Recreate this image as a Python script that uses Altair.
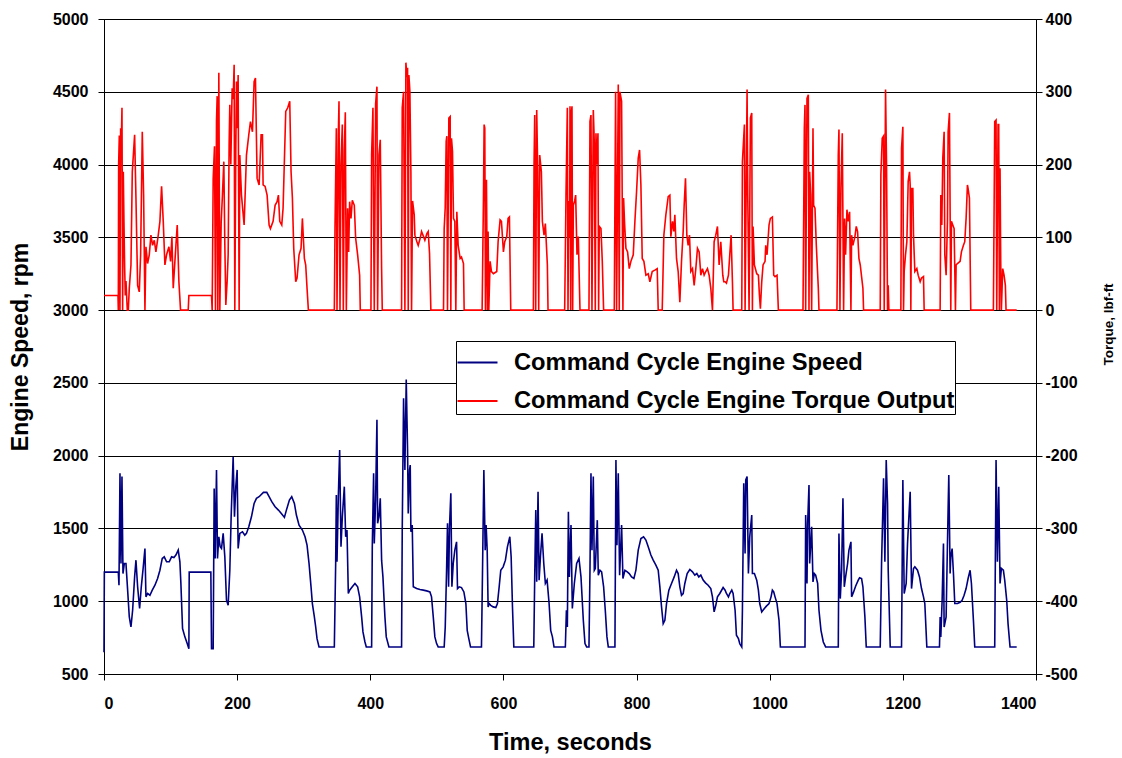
import altair as alt
import pandas as pd

# Command cycle engine speed (time s, rpm)
speed_points = [
    (0,650),(0.5,1200),(21.5,1200),(22.5,1110),(24,1879),(25.5,1259),(27,1856),(28.5,1190),(30.5,1259),(33,1259),
    (35.5,1076),(38,892),(40.5,823),(43,938),(46,1167),(48,1282),(50.5,1099),(53.5,950),(56,1099),(59,1236),
    (61.5,1362),(63,1030),(65.5,1053),(69,1041),(72.5,1076),(76.5,1110),(80.5,1156),(84,1213),(87.5,1294),(90.5,1305),
    (94,1271),(98,1271),(101.5,1305),(105,1300),(108,1317),(111.5,1351),(114,1271),(115.5,1122),(118,812),(121.5,755),
    (125,709),(127.5,674),(128,1200),(160.5,1200),(161.5,674),(164,674),(165.5,1775),(167,1294),(169,1902),(170.5,1294),
    (172.5,1443),(174.5,1374),(176.5,1362),(179,1466),(181.5,1305),(184,1007),(186.5,972),(189,1213),(191,1580),(194,1993),
    (196,1580),(198,1787),(200,1902),(201.5,1362),(204,1466),(208,1477),(211.5,1454),(214,1466),(217.5,1512),(221.5,1580),
    (225.5,1672),(229,1707),(233,1718),(239.5,1748),(244.5,1748),(248,1718),(252,1684),(257,1649),(262,1626),(267,1599),
    (271,1576),(274,1626),(278.5,1695),(282,1718),(286,1672),(289,1592),(293,1523),(298,1489),(302,1443),(305,1385),
    (308,1259),(311,1099),(313,984),(316,892),(318,823),(320,743),(323,686),(346,686),(348,1259),(349,1729),
    (350,1271),(352,1718),(354,2039),(356,1374),(358,1580),(361,1787),(363,1443),(365,1489),(367,1053),(369,1076),
    (373,1099),(377,1122),(381,1099),(384,1030),(387,892),(389,789),(392,720),(394,686),(402,686),(403,1374),
    (405,1879),(406,1397),(408,1695),(410,2246),(411,1535),(413,1580),(415,1707),(417,1282),(419,1167),(422,892),
    (424,755),(428,686),(447,686),(448,1489),(450,2395),(452,1902),(454,2523),(456,2039),(457,1603),(459,1902),
    (460,1936),(461,1477),(463,1523),(464.6,1099),(469.6,1087),(474.6,1080),(479.6,1076),(484.6,1071),(489.6,1064),(492,1030),
    (494.6,892),(497,755),(499.6,709),(502,686),(511,686),(512.6,823),(514.6,1213),(516,1535),(517.6,1099),(519,1512),
    (521,1741),(522.6,1099),(524.6,1259),(527,1351),(529.6,1408),(531,1087),(533.6,1099),(537,1094),(540.6,1064),(543.6,984),
    (545.6,800),(548,743),(550.6,686),(567,686),(568.6,1213),(570.6,1902),(572.6,1351),(574,1523),(575.6,1351),(577,961),
    (578.6,984),(581,972),(584.6,961),(588.6,957),(591,984),(593.6,1099),(596,1213),(599.6,1236),(603,1282),(606,1374),
    (609.6,1443),(611.6,1305),(613.6,961),(615.6,686),(645.6,686),(647,1167),(648.6,1626),(650,1133),(652,1752),(653.6,1145),
    (655.6,1305),(658,1466),(660.6,1259),(663,1122),(665.6,1145),(668.6,984),(671,800),(673.6,755),(676,686),(693,686),
    (694.6,938),(696,823),(697.6,1615),(699,1167),(701.5,1523),(703.5,950),(706.5,1122),(710,1259),(713.5,1294),(716.5,1167),
    (720,869),(722.5,709),(725,686),(728.5,686),(730,1213),(731.5,1879),(733,1351),(735,1856),(736.5,1213),(738,1225),
    (741,1557),(742.5,1179),(745,1213),(747.5,1202),(750.5,1099),(753,938),(755.5,755),(757.5,686),(767.5,686),(769,1970),
    (770.5,1385),(772.5,1879),(774.5,1179),(777.5,1523),(779.5,1156),(782.5,1213),(786,1202),(789,1190),(792.5,1167),(796,1156),
    (799,1213),(802.5,1351),(806.5,1431),(810.5,1443),(814,1420),(817.5,1374),(821.5,1317),(825,1282),(829,1248),(832.5,1213),
    (835,1099),(837.5,961),(840,846),(842.5,869),(845,984),(848.5,1076),(852.5,1122),(856.5,1167),(860,1213),(862.5,1190),
    (865,1099),(867.5,1041),(870,1053),(872.5,1122),(876,1190),(880,1218),(884,1202),(887.5,1179),(890.5,1190),(893.5,1167),
    (896.5,1179),(900,1145),(903.5,1126),(907.5,1110),(911.5,1087),(914,1030),(916.5,927),(919,972),(921.5,1030),(925,1053),
    (930,1094),(933,1076),(935,1053),(938,1030),(940,1053),(943,1076),(945,1053),(948,938),(950,766),(953,743),
    (955,709),(958,686),(959,938),(961,1810),(963,1328),(964,1833),(966,1856),(968,1190),(970,1443),(973,1592),
    (974,1190),(977,1190),(980.5,1145),(983,1076),(985,984),(988,927),(992,950),(995,966),(999,984),(1002,1030),
    (1004,1076),(1006,1064),(1008,1030),(1011,984),(1014,869),(1016,686),(1053,686),(1054,1592),(1056,1122),(1057,1535),
    (1059,1798),(1060,1259),(1063,1512),(1065,1133),(1067,1190),(1069,1179),(1072,1122),(1074,938),(1077,800),(1080.5,720),
    (1084,686),(1103,686),(1104,1466),(1106,1018),(1108,1213),(1110,1707),(1112,1099),(1114,1167),(1117,1259),(1119,1351),
    (1122,1408),(1123,1030),(1126,1064),(1129,1103),(1133,1145),(1135,1161),(1138,1156),(1140,1099),(1143,892),(1145,686),
    (1166,686),(1168,1259),(1171,1844),(1173,1271),(1175,1970),(1177,1672),(1178,1213),(1181,686),(1198,686),(1200,1833),
    (1202,1053),(1205,1122),(1207,1397),(1211,1752),(1213,1087),(1216,1225),(1218,1236),(1222,1213),(1225,1167),(1228,1087),
    (1231,1030),(1233,984),(1236,686),(1255,686),(1256,892),(1257,755),(1259,1007),(1261,1397),(1262,823),(1265,892),
    (1267,1397),(1269,1867),(1271,1190),(1272,1305),(1274,1362),(1276,1190),(1278,984),(1282,984),(1286,993),(1289,1007),
    (1292,1041),(1295,1087),(1298,1156),(1301,1213),(1303,1122),(1306,869),(1308,686),(1338,686),(1340,1970),(1342,1271),
    (1344,1787),(1346,1122),(1348,1225),(1351,1213),(1353,1145),(1356,1007),(1358,846),(1361,686),(1371,686),
]

# Command cycle engine torque output (time s, lbf-ft)
torque_points = [
    (0,20),(21,20),(21.5,0),(22,200),(23,240),(24,0),(25,250),(26,230),(27,278),(28,0),
    (29,190),(30,120),(31,60),(32,20),(33,40),(35,0),(36.5,0),(38,30),(40.5,62),(42.5,190),
    (46,241),(48,154),(50.5,34),(53,25),(55,76),(57.5,245),(59.5,158),(61.5,0),(63,87),(65.5,64),
    (68,76),(70.5,103),(73,89),(75.5,96),(78,80),(81.5,103),(84,122),(86.5,170),(89,122),(91.5,62),
    (94,76),(97.5,87),(100,67),(102,101),(104,30),(106.5,67),(110,117),(112.5,39),(115,0),(126.5,0),
    (127.5,20),(161.5,20),(162.5,0),(164,180),(166,225),(167.5,0),(169,260),(170,294),(171,0),(172.5,326),
    (174,0),(176,120),(178,160),(180,204),(181.5,90),(183,7),(185,40),(186.5,76),(188,230),(189,282),
    (190.5,200),(192.5,305),(194,290),(195.5,337),(196.5,0),(198,220),(199,314),(200,250),(201.5,323),(203,0),
    (204,213),(206.5,158),(210.5,117),(214,213),(217.5,241),(220,259),(223,245),(225.5,314),(227.5,319),(230,181),
    (233,172),(236,241),(238,241),(239,172),(242,170),(245,158),(248,117),(250,112),(254,122),(257,144),
    (260,149),(262,158),(264,122),(267,117),(269,140),(273,273),(276,278),(279,287),(281,190),(283,154),
    (285,85),(288,39),(290,44),(293,76),(296,85),(298,126),(301,71),(303,62),(305,30),(307,0),
    (346,0),(347,112),(349,250),(350,0),(352,240),(353,287),(354.5,0),(356,200),(358,255),(359.5,0),
    (361,220),(362.5,272),(364,0),(366,140),(367.5,80),(369,149),(371,126),(373,151),(376,144),(378,99),
    (381,76),(384,48),(385,0),(401,0),(402,213),(404,278),(405,120),(406,0),(408,283),(410,307),
    (411,0),(413,213),(415,234),(417,57),(418,0),(447,0),(448,278),(450,300),(452,0),(453.5,340),
    (455,320),(456,333),(457,0),(458,323),(459.5,300),(461,190),(462,0),(463.5,150),(466,131),(467,103),
    (470,94),(472,89),(475,99),(477,108),(480,101),(482,96),(485,105),(487,108),(489,78),(491,0),
    (510,0),(511,112),(512.5,140),(514,232),(515,239),(516,0),(518,264),(520,266),(521,0),(522,236),
    (523.5,218),(525,126),(527,122),(528.5,0),(530,135),(532,89),(535,71),(537,73),(540,64),(541,0),
    (568,0),(570,154),(571,255),(572,250),(573,0),(574.5,179),(576,0),(577,108),(578,0),(580,67),
    (582,53),(585,50),(590,53),(592,94),(595,124),(597,122),(600,80),(602,94),(605,101),(607,126),
    (609,128),(611,0),(645,0),(646,200),(647,268),(648.5,0),(650,275),(651.5,190),(653,0),(654.5,213),
    (657,190),(658.5,122),(661,103),(663,119),(666,62),(667,0),(692,0),(694,158),(696,278),(697,0),
    (698,150),(699.5,100),(700,280),(701,0),(702,270),(703,280),(704,0),(705,144),(707,150),(708.5,158),
    (710.5,76),(712.5,101),(715,0),(728.5,0),(730,259),(731.5,268),(733,0),(735,275),(736.5,230),(738,0),
    (739,243),(740.5,200),(742,243),(743,0),(744,115),(746.5,112),(748.5,67),(750.5,0),(766.5,0),(768.5,300),
    (770,0),(772.5,310),(774,0),(775,300),(777.5,287),(779.5,0),(780.5,154),(782,119),(784,85),(786.5,80),
    (789,57),(791.5,67),(795,76),(797.5,122),(800,163),(802.5,209),(804.5,220),(806.5,172),(808.5,71),(811,67),
    (814,48),(817.5,50),(820,39),(823.5,53),(827.5,55),(831,57),(832.5,0),(838.5,0),(841,103),(844,131),
    (847.5,156),(850,158),(851.5,101),(854,122),(856,108),(857.5,131),(860,71),(862.5,53),(865,11),(867.5,67),
    (870,108),(871.5,144),(873.5,181),(875.5,103),(877.5,89),(879.5,103),(881.5,53),(884,57),(886.5,34),(889,57),
    (891.5,85),(894,80),(896.5,48),(899,57),(901.5,48),(904,53),(906.5,57),(909,48),(911.5,30),(914,0),
    (916.5,94),(919,103),(921.5,115),(924,62),(926.5,94),(929.5,48),(931,39),(933,39),(935,37),(938,48),
    (940,76),(942,103),(944,39),(945,0),(958,0),(959,204),(962,255),(963,0),(966,303),(967,158),
    (969,0),(971,264),(973,271),(974,0),(975,115),(977,62),(980.5,50),(983,48),(984.5,21),(986,2),
    (988,39),(990,62),(993,67),(994,89),(996,76),(999,117),(1001,126),(1004,128),(1006,48),(1008,46),
    (1011,48),(1013,0),(1050,0),(1052,250),(1053,282),(1054,0),(1056,291),(1058,296),(1059,0),(1060,190),
    (1061.5,158),(1063,0),(1065,250),(1066,144),(1068,140),(1070,89),(1073,30),(1074,0),(1101,0),(1103,213),
    (1104,248),(1105.5,0),(1107,167),(1109,243),(1111,0),(1112.5,126),(1114,76),(1116,138),(1118,122),(1120,135),
    (1122,0),(1123,103),(1125,89),(1128,101),(1130,115),(1132,108),(1134,71),(1136,62),(1138,46),(1140,30),
    (1141,0),(1166,0),(1167,186),(1169,236),(1171,239),(1172,0),(1174,303),(1175.5,200),(1177,0),(1178,34),
    (1179,0),(1197,0),(1198,222),(1200,252),(1201,0),(1202,53),(1204,76),(1206,94),(1208,177),(1210,190),
    (1211,172),(1212,0),(1213,167),(1215,167),(1216,103),(1218,53),(1221,57),(1223,48),(1226,39),(1228,44),
    (1231,46),(1232,0),(1256,0),(1257,158),(1258.5,117),(1260,209),(1262,245),(1263,76),(1265,48),(1267,122),
    (1268,245),(1270,271),(1272,0),(1273,122),(1275,117),(1277,112),(1279,0),(1280,62),(1282,64),(1286,67),
    (1288,80),(1291,89),(1293,94),(1295,126),(1297,172),(1298,167),(1300,154),(1302,0),(1336,0),(1338,259),
    (1340,261),(1341,0),(1343,255),(1344,255),(1345,0),(1346,195),(1347,67),(1348,0),(1350,57),(1352,48),
    (1354,34),(1355,0),(1371,0),
]

series_names = ["Command Cycle Engine Speed", "Command Cycle Engine Torque Output"]
series_colors = ["#000080", "#FF0000"]

speed_df = pd.DataFrame(speed_points, columns=["t", "v"])
speed_df["i"] = range(len(speed_df))
speed_df["series"] = series_names[0]
torque_df = pd.DataFrame(torque_points, columns=["t", "v"])
torque_df["i"] = range(len(torque_df))
torque_df["series"] = series_names[1]

FONT = "Arial, 'Liberation Sans', sans-serif"
HYPHEN_LABEL = "datum.value < 0 ? '-' + abs(datum.value) : '' + datum.value"

color = alt.Color(
    "series:N",
    scale=alt.Scale(domain=series_names, range=series_colors),
    legend=alt.Legend(
        title=None, orient="none", legendX=352, legendY=322,
        fillColor="white", strokeColor="black", padding=0.5,
        labelFontSize=23.7, labelFontWeight="bold", labelFont=FONT, labelColor="black",
        labelLimit=800, labelOffset=15.5, rowPadding=5.5,
        labelExpr="datum.label + '\u00a0\u00a0'",
        symbolType="stroke", symbolSize=1600, symbolStrokeWidth=2,
    ),
)

x_enc = alt.X(
    "t:Q",
    scale=alt.Scale(domain=[0, 1400], nice=False),
    axis=alt.Axis(
        values=list(range(0, 1401, 200)), format="d", title="Time, seconds", grid=False,
        labelFontSize=16, labelFontWeight="bold", titleFontSize=23.5, titleFontWeight="bold",
        tickSize=6, labelPadding=15, titlePadding=19,
    ),
)

speed_line = alt.Chart(speed_df).mark_line(strokeWidth=1.6).encode(
    x=x_enc,
    y=alt.Y(
        "v:Q",
        scale=alt.Scale(domain=[500, 5000], nice=False, zero=False),
        axis=alt.Axis(
            values=list(range(500, 5001, 500)), format="d", title="Engine Speed, rpm", grid=True,
            gridColor="black", gridWidth=1, labelFontSize=16, labelFontWeight="bold",
            titleFontSize=23, titleFontWeight="bold", tickSize=6, labelPadding=10, titlePadding=20,
        ),
    ),
    color=color,
    order=alt.Order("i:Q"),
)

torque_line = alt.Chart(torque_df).mark_line(strokeWidth=1.6).encode(
    x=x_enc,
    y=alt.Y(
        "v:Q",
        scale=alt.Scale(domain=[-500, 400], nice=False, zero=False),
        axis=alt.Axis(
            orient="right", values=list(range(-500, 401, 100)), labelExpr=HYPHEN_LABEL,
            title="Torque, lbf-ft", grid=False,
            labelFontSize=16, labelFontWeight="bold", titleFontSize=13.5, titleFontWeight="bold",
            tickSize=6, labelPadding=3, titleAngle=270, titleX=72, titleY=305,
            titleAlign="center", titleBaseline="middle",
        ),
    ),
    color=color,
    order=alt.Order("i:Q"),
)

chart = (
    alt.layer(speed_line, torque_line)
    .resolve_scale(y="independent")
    .properties(
        width=932, height=655,
        padding={"left": 104, "top": 19, "right": 86, "bottom": 84},
        autosize=alt.AutoSizeParams(type="none"),
        background="white",
    )
    .configure(font=FONT)
    .configure_axis(domainColor="black", tickColor="black", labelColor="black", titleColor="black")
    .configure_view(stroke="black", strokeWidth=1)
)

chart.save("out.html", embed_options={"renderer": "svg", "actions": False})
